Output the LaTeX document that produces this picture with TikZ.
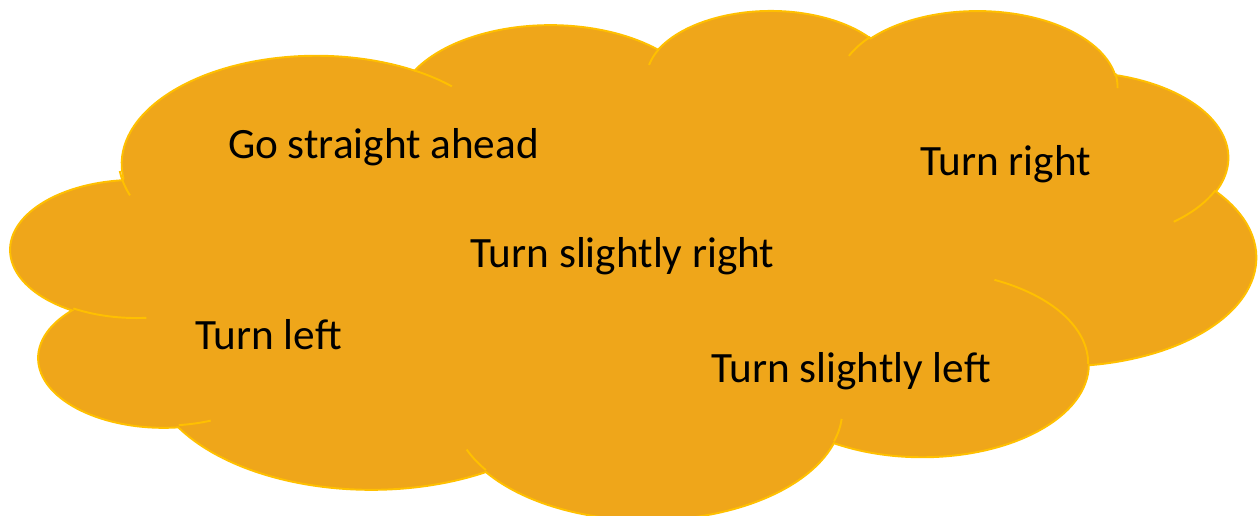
\documentclass[tikz,border=0pt]{standalone}
\usepackage{fontspec}
\setmainfont{Carlito}
\usepackage{tikz}
\definecolor{CloudGold}{HTML}{EFA61A}
\definecolor{CloudEdge}{HTML}{FFC000}

\begin{document}
\begin{tikzpicture}[
  x=0.01cm,y=0.01cm,
  declare function={ea(\a,\p,\q)=atan2(\p*sin(\a),\q*cos(\a));},
  lobe/.style n args={4}{insert path={
    arc[x radius=#1,y radius=#2,start angle={ea(-(#3),#1,#2)},
        delta angle={Mod(ea(-(#3)-(#4),#1,#2)-ea(-(#3),#1,#2),360)-360}]}},
  cloudbody/.style={fill=CloudGold,draw=CloudEdge,line width=0.55pt},
  cloudedge/.style={draw=CloudEdge,line width=0.55pt},
  word/.style={anchor=base,inner sep=0pt,text=black,font=\fontsize{12.3}{14}\selectfont}
]
  \clip (0,0) rectangle (1260,-516);

  % the cloud, lobe by lobe
  \begin{scope}[shift={(11.1,-9.3)},x=0.28797cm,y=0.1178cm]
    \path[cloudbody] (3.9,-14.37)
      [lobe={6.753}{9.19}{-190.4875}{123.7805}]
      [lobe={5.333}{7.267}{-144.1024}{89.9452}]
      [lobe={4.365}{5.945}{-145.8079}{99.7230}]
      [lobe={4.857}{6.595}{-130.9861}{117.2417}]
      [lobe={5.333}{7.273}{-78.7089}{109.0269}]
      [lobe={6.775}{9.22}{-46.2673}{130.2690}]
      [lobe={5.785}{7.867}{0.6250}{114.0333}]
      [lobe={6.752}{9.215}{22.4516}{115.1726}]
      [lobe={7.72}{10.543}{66.2426}{75.7110}]
      [lobe={4.36}{5.918}{-274.9421}{146.7356}]
      [lobe={4.345}{5.945}{-246.8285}{152.5189}] -- cycle;

    \path[cloudedge]
      (4.693,-26.177) [lobe={4.345}{5.945}{86.7420}{26.4295}]
      (6.928,-34.899) [lobe={4.36}{5.918}{73.6105}{11.4475}]
      (16.478,-39.09) [lobe={6.752}{9.215}{137.6242}{14.0811}]
      (28.827,-34.751) [lobe={6.752}{9.215}{6.4533}{15.9984}]
      (34.129,-22.954) [lobe={5.785}{7.867}{-70.2924}{70.9174}]
      (41.798,-15.354) [lobe={5.333}{7.273}{30.3180}{27.7515}]
      (38.324,-5.426) [lobe={4.857}{6.595}{-13.7443}{14.8557}]
      (29.078,-3.952) [lobe={4.857}{6.595}{-149.1815}{18.1945}]
      (22.141,-4.72) [lobe={4.365}{5.945}{-163.4943}{17.6865}]
      (14.0,-5.192) [lobe={6.753}{9.19}{-66.7070}{12.3194}]
      (4.127,-15.789) [lobe={6.753}{9.19}{153.9494}{17.2628}];
  \end{scope}

  \node[word] (ahead) at (383.5,-158.3) {Go straight ahead};
  \node[word] (right) at (1005.5,-176) {Turn right};
  \node[word] (slightright) at (622.5,-268) {Turn slightly right};
  \node[word] (left) at (268.5,-349.7) {Turn left};
  \node[word] (slightleft) at (851,-383) {Turn slightly left};
\end{tikzpicture}
\end{document}
